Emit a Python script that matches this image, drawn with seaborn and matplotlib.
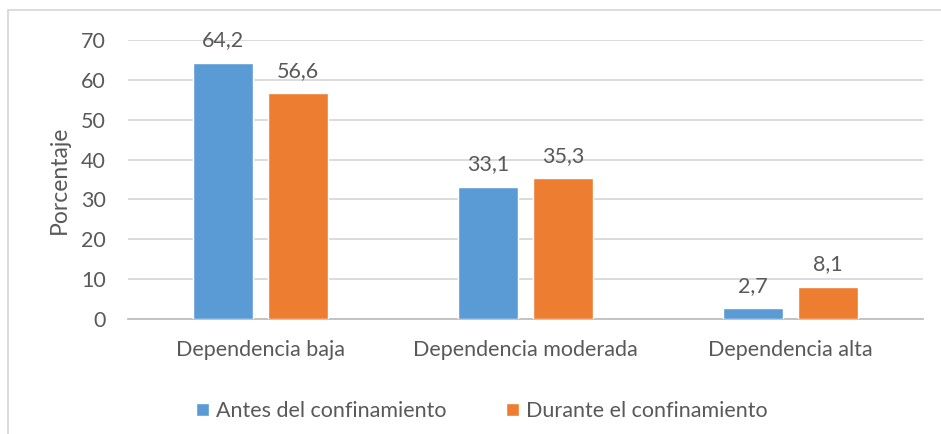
import pandas as pd
import matplotlib.pyplot as plt
import seaborn as sns
from matplotlib.patches import Rectangle

categorias = ['Dependencia baja', 'Dependencia moderada', 'Dependencia alta']
antes = [64.2, 33.1, 2.7]
durante = [56.6, 35.3, 8.1]
series = ['Antes del confinamiento', 'Durante el confinamiento']
colores = ['#5B9BD5', '#ED7D31']

df = pd.DataFrame({
    'categoria': categorias * 2,
    'valor': antes + durante,
    'serie': [series[0]] * 3 + [series[1]] * 3,
})

sns.set_style('white')
plt.rcParams['font.family'] = ['Lato', 'DejaVu Sans']
gris = '#595959'
fs = 15.5

fig = plt.figure(figsize=(9.41, 4.34), dpi=100)
ax = fig.add_axes([0.136, 0.265, 0.845, 0.643])

sns.barplot(data=df, x='categoria', y='valor', hue='serie', palette=colores,
            width=0.566, gap=0.2, saturation=1, ax=ax, zorder=3)

for cont in ax.containers:
    ax.bar_label(cont, labels=[f'{v:.1f}'.replace('.', ',') for v in cont.datavalues],
                 padding=9, fontsize=fs, color=gris)

ax.set_ylim(0, 70)
ax.set_yticks(range(0, 71, 10))
ax.yaxis.grid(True, color='#D9D9D9', linewidth=1.3, zorder=0)
ax.set_axisbelow(True)
for s in ['top', 'right', 'left']:
    ax.spines[s].set_visible(False)
ax.spines['bottom'].set_color('#BFBFBF')
ax.spines['bottom'].set_linewidth(1.3)
ax.tick_params(axis='both', length=0, labelsize=fs, colors=gris)
ax.tick_params(axis='x', pad=15)
ax.tick_params(axis='y', pad=16)
ax.set_xlabel('')
ax.set_ylabel('Porcentaje', fontsize=fs + 1, color=gris, labelpad=8)

ax.legend(loc='upper center', bbox_to_anchor=(0.445, -0.225), ncol=2, frameon=False,
          fontsize=fs, labelcolor=gris, handlelength=0.6, handleheight=0.6,
          handletextpad=0.3, columnspacing=2.8)

# marco del gráfico
fig.patches.append(Rectangle((8 / 941, -0.1), 1.2, 1 - 10 / 434 + 0.1,
                             transform=fig.transFigure, fill=False,
                             edgecolor='#D9D9D9', linewidth=1.3))

fig.savefig('out.png', dpi=100)
